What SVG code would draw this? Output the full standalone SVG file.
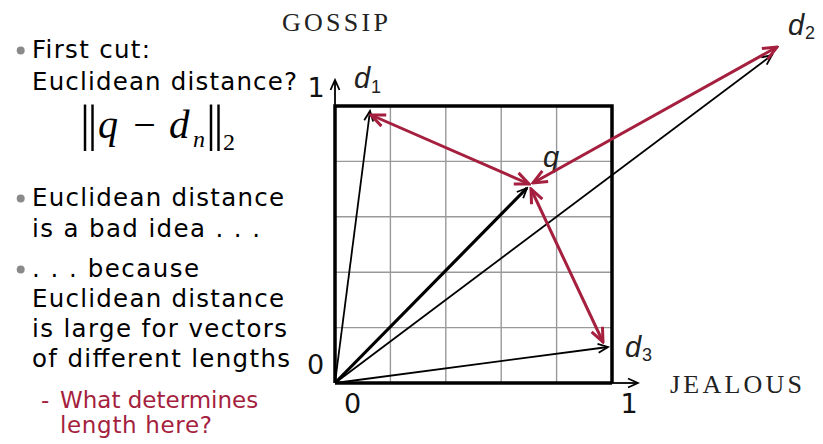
<svg xmlns="http://www.w3.org/2000/svg" width="823" height="444" viewBox="0 0 823 444">
<style>
.t{font-family:"DejaVu Sans","Verdana",sans-serif;font-size:24.5px;fill:#000}
.r{font-family:"DejaVu Sans","Verdana",sans-serif;font-size:23px;fill:#A51F3E}
.ax{font-family:"DejaVu Sans",sans-serif;font-size:27px;fill:#111;text-anchor:middle}
.cap{font-family:"Liberation Serif","Times New Roman",serif;font-size:26px;fill:#222}
.lab{font-family:"Liberation Sans",Arial,sans-serif;font-style:italic;font-size:29px;fill:#222}
.sub{font-family:"Liberation Sans",Arial,sans-serif;font-size:18px;fill:#222}
.m{font-family:"Liberation Serif","Times New Roman",serif;fill:#000}
.grid{stroke:#999;stroke-width:1.4}
.vec{stroke:#000;stroke-width:1.8;fill:none;marker-end:url(#bh)}
.red{stroke:#A51F3E;stroke-width:3;fill:none;marker-start:url(#rh);marker-end:url(#rh)}
</style>
<defs>
<marker id="bh" viewBox="-12 -7 14 14" refX="0" refY="0" markerWidth="14" markerHeight="14" markerUnits="userSpaceOnUse" orient="auto-start-reverse">
<path d="M-10,-4.5 L0,0 L-10,4.5" fill="none" stroke="#000" stroke-width="1.8"/>
</marker>
<marker id="rh" viewBox="-16 -9 18 18" refX="0" refY="0" markerWidth="18" markerHeight="18" markerUnits="userSpaceOnUse" orient="auto-start-reverse">
<path d="M-14,-6 L0,0 L-14,6" fill="none" stroke="#A51F3E" stroke-width="3"/>
</marker>
</defs>
<rect width="823" height="444" fill="#fff"/>

<g id="bullets">
<circle cx="20.7" cy="50.5" r="4" fill="#8a8a8a"/>
<circle cx="20.7" cy="198.5" r="4" fill="#8a8a8a"/>
<circle cx="20.7" cy="269.5" r="4" fill="#8a8a8a"/>
<text class="t" x="32" y="58" textLength="118" lengthAdjust="spacing">First cut:</text>
<text class="t" x="32" y="90" textLength="265" lengthAdjust="spacing">Euclidean distance?</text>
<text class="t" x="32" y="206" textLength="252" lengthAdjust="spacing">Euclidean distance</text>
<text class="t" x="32" y="237" textLength="228" lengthAdjust="spacing">is a bad idea . . .</text>
<text class="t" x="32" y="277" textLength="167" lengthAdjust="spacing">. . . because</text>
<text class="t" x="32" y="307" textLength="252" lengthAdjust="spacing">Euclidean distance</text>
<text class="t" x="32" y="337" textLength="255" lengthAdjust="spacing">is large for vectors</text>
<text class="t" x="32" y="367" textLength="258" lengthAdjust="spacing">of different lengths</text>
<text class="r" x="41" y="408">-</text>
<text class="r" x="60" y="408">What determines</text>
<text class="r" x="60" y="433" textLength="152" lengthAdjust="spacing">length here?</text>
</g>

<g id="formula">
<text class="m" x="80" y="140" font-size="50" letter-spacing="-2.5">||</text>
<text class="m" x="98" y="138" font-size="40" font-style="italic">q</text>
<text class="m" x="144.5" y="138" font-size="40" text-anchor="middle">−</text>
<text class="m" x="169" y="138" font-size="41" font-style="italic">d</text>
<text class="m" x="193" y="147" font-size="24" font-style="italic">n</text>
<text class="m" x="206" y="140" font-size="50" letter-spacing="-2.5">||</text>
<text class="m" x="223" y="150" font-size="24">2</text>
</g>

<g id="grid">
<line class="grid" x1="390.4" y1="106" x2="390.4" y2="383"/>
<line class="grid" x1="445.8" y1="106" x2="445.8" y2="383"/>
<line class="grid" x1="501.2" y1="106" x2="501.2" y2="383"/>
<line class="grid" x1="556.6" y1="106" x2="556.6" y2="383"/>
<line class="grid" x1="335" y1="161.4" x2="612" y2="161.4"/>
<line class="grid" x1="335" y1="216.8" x2="612" y2="216.8"/>
<line class="grid" x1="335" y1="272.2" x2="612" y2="272.2"/>
<line class="grid" x1="335" y1="327.6" x2="612" y2="327.6"/>
</g>

<g id="axes">
<polyline points="335,383 335,106 612,106 612,383" fill="none" stroke="#000" stroke-width="3.5"/>
<line x1="335" y1="383" x2="612" y2="383" stroke="#000" stroke-width="3.5"/>
<line x1="335" y1="110" x2="335" y2="80" stroke="#000" stroke-width="1.8" marker-end="url(#bh)"/>
<line x1="610" y1="383" x2="638" y2="383" stroke="#000" stroke-width="1.8" marker-end="url(#bh)"/>
<text class="ax" x="316" y="97">1</text>
<text class="ax" x="315.5" y="374">0</text>
<text class="ax" x="352.5" y="413">0</text>
<text class="ax" x="629" y="413">1</text>
<text class="cap" x="282" y="31" textLength="106" lengthAdjust="spacing">GOSSIP</text>
<text class="cap" x="670" y="393" textLength="132" lengthAdjust="spacing">JEALOUS</text>
</g>

<g id="d1">
<line class="vec" x1="335" y1="383" x2="370" y2="111"/>
<text class="lab" x="354" y="88">d</text><text class="sub" x="371" y="93">1</text>
</g>
<g id="q">
<line x1="335" y1="383" x2="527" y2="188" stroke="#000" stroke-width="3.2" marker-end="url(#bh)"/>
<text class="lab" x="543" y="167">q</text>
</g>
<g id="d2">
<line class="vec" x1="335" y1="383" x2="772" y2="55"/>
<text class="lab" x="788" y="35">d</text><text class="sub" x="805" y="39">2</text>
</g>
<g id="d3">
<line class="vec" x1="335" y1="383" x2="608" y2="347"/>
<text class="lab" x="625" y="357">d</text><text class="sub" x="642" y="361">3</text>
</g>

<g id="connectors">
<line class="red" x1="371" y1="115" x2="529" y2="184"/>
<line class="red" x1="533" y1="183" x2="777" y2="47"/>
<line class="red" x1="531" y1="189" x2="603" y2="342"/>
</g>
</svg>
